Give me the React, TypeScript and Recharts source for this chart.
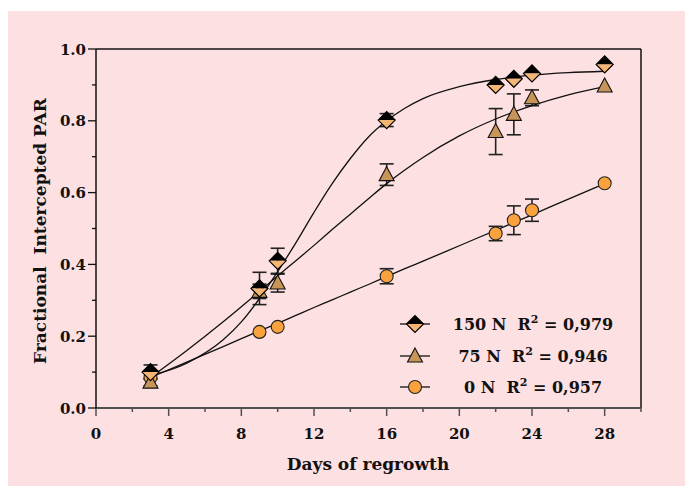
import { ComposedChart, Scatter, Line, XAxis, YAxis, ErrorBar, ReferenceLine } from "recharts";

// measured points (days of regrowth)
const days = [3, 9, 10, 16, 22, 23, 24, 28];
const par150 = [0.1, 0.333, 0.41, 0.802, 0.9, 0.917, 0.932, 0.957];
const err150 = [0.02, 0.045, 0.035, 0.018, null, null, null, null];
const par75 = [0.072, 0.325, 0.348, 0.65, 0.77, 0.818, 0.864, 0.897];
const err75 = [0.01, 0.02, 0.025, 0.03, 0.064, 0.057, 0.022, null];
const par0 = [0.085, 0.212, 0.226, 0.367, 0.486, 0.523, 0.551, 0.626];
const err0 = [null, null, null, 0.021, 0.02, 0.04, 0.031, null];

// fitted curves
const fitDays = [3, 5, 7, 8, 9, 10, 11, 12, 13, 14, 15, 16, 17, 18, 20, 22, 24, 26, 28];
const fit150 = [0.09, 0.125, 0.19, 0.24, 0.305, 0.38, 0.46, 0.545, 0.625, 0.695, 0.755, 0.8, 0.835, 0.862, 0.895, 0.915, 0.927, 0.934, 0.938];
const fit75 = [0.085, 0.16, 0.24, 0.282, 0.325, 0.368, 0.41, 0.453, 0.497, 0.54, 0.583, 0.625, 0.663, 0.698, 0.758, 0.805, 0.842, 0.872, 0.895];
const fit0 = [0.085, 0.128, 0.171, 0.193, 0.215, 0.236, 0.258, 0.28, 0.301, 0.323, 0.344, 0.366, 0.388, 0.409, 0.452, 0.495, 0.538, 0.582, 0.625];

const xTicks = [0, 2, 4, 6, 8, 10, 12, 14, 16, 18, 20, 22, 24, 26, 28, 30];
const yTicks = [0, 0.1, 0.2, 0.3, 0.4, 0.5, 0.6, 0.7, 0.8, 0.9, 1.0];

const legendItems = [
    { label: "150 N", r2: "0,979", marker: "diamond" },
    { label: "75 N", r2: "0,946", marker: "triangle" },
    { label: "0 N", r2: "0,957", marker: "circle" },
];

const FONT = "'DejaVu Serif', serif";
const BG = "#fde0e1";

const toRows = (vals: number[], errs: (number | null)[]) =>
    days.map((d, i) => ({ day: d, v: vals[i], e: errs[i] ?? undefined }));

const rows150 = toRows(par150, err150);
const rows75 = toRows(par75, err75);
const rows0 = toRows(par0, err0);
const fitRows = fitDays.map((d, i) => ({ day: d, f150: fit150[i], f75: fit75[i], f0: fit0[i] }));

function Diamond({ cx, cy }: { cx: number; cy: number }) {
    const s = 8.5;
    return (
        <g>
            <polygon points={`${cx - s},${cy} ${cx},${cy - s} ${cx + s},${cy}`} fill="#000" />
            <polygon points={`${cx - s},${cy} ${cx + s},${cy} ${cx},${cy + s}`} fill="#f5b574" />
            <polygon
                points={`${cx - s},${cy} ${cx},${cy - s} ${cx + s},${cy} ${cx},${cy + s}`}
                fill="none"
                stroke="#000"
                strokeWidth={1.2}
            />
        </g>
    );
}

function Triangle({ cx, cy }: { cx: number; cy: number }) {
    return (
        <polygon
            points={`${cx},${cy - 8} ${cx + 7.5},${cy + 6} ${cx - 7.5},${cy + 6}`}
            fill="#c69557"
            stroke="#111"
            strokeWidth={1.1}
        />
    );
}

function Dot({ cx, cy }: { cx: number; cy: number }) {
    return <circle cx={cx} cy={cy} r={6.5} fill="#f9a23e" stroke="#222" strokeWidth={1.1} />;
}

function Marker({ kind, cx, cy }: { kind: string; cx: number; cy: number }) {
    if (kind === "diamond") return <Diamond cx={cx} cy={cy} />;
    if (kind === "triangle") return <Triangle cx={cx} cy={cy} />;
    return <Dot cx={cx} cy={cy} />;
}

const noShape = () => <g />;

function XTick(props: any) {
    const { x, y, payload } = props;
    const major = payload.value % 4 === 0 && payload.value < 30;
    return (
        <g>
            <line x1={x} y1={y} x2={x} y2={y + (major ? 8 : 4)} stroke="#505050" strokeWidth={1.5} />
            {major && (
                <text x={x} y={y + 31} textAnchor="middle" fontFamily={FONT} fontWeight="bold" fontSize={15} fill="#111">
                    {payload.value}
                </text>
            )}
        </g>
    );
}

function YTick(props: any) {
    const { x, y, payload } = props;
    const major = Math.round(payload.value * 10) % 2 === 0;
    return (
        <g>
            <line x1={x - (major ? 8 : 4)} y1={y} x2={x} y2={y} stroke="#111" strokeWidth={1.3} />
            {major && (
                <text x={x - 10} y={y + 5.5} textAnchor="end" fontFamily={FONT} fontWeight="bold" fontSize={15} fill="#111">
                    {payload.value.toFixed(1)}
                </text>
            )}
        </g>
    );
}

function Legend() {
    return (
        <svg width={260} height={100} style={{ position: "absolute", left: 373, top: 289 }}>
            {legendItems.map((it, i) => {
                const y = [24, 56, 87][i];
                return (
                    <g key={it.label}>
                        <line x1={20} y1={y} x2={50} y2={y} stroke="#111" strokeWidth={1.3} />
                        <Marker kind={it.marker} cx={35} cy={y} />
                        <text
                            x={153}
                            y={y + 6}
                            textAnchor="middle"
                            fontFamily={FONT}
                            fontWeight="bold"
                            fontSize={16}
                            fill="#111"
                            style={{ whiteSpace: "pre" }}
                        >
                            {`${it.label}  R`}
                            <tspan dy={-7} fontSize={11}>2</tspan>
                            <tspan dy={7}>{` = ${it.r2}`}</tspan>
                        </text>
                    </g>
                );
            })}
        </svg>
    );
}

export default function App() {
    return (
        <div style={{ position: "relative", left: -1, top: 3, width: 686, height: 478, background: BG }}>
            <ComposedChart width={686} height={478} margin={{ top: 38, right: 52, bottom: 0, left: 0 }}>
                <XAxis
                    type="number"
                    dataKey="day"
                    domain={[0, 30]}
                    ticks={xTicks}
                    interval={0}
                    height={81}
                    tickLine={false}
                    tickSize={0}
                    tickMargin={0}
                    tick={<XTick />}
                    axisLine={{ stroke: "#505050", strokeWidth: 2 }}
                    label={() => (
                        <text x={361} y={459} textAnchor="middle" fontFamily={FONT} fontWeight="bold" fontSize={17} fill="#111">
                            Days of regrowth
                        </text>
                    )}
                />
                <YAxis
                    type="number"
                    domain={[0, 1]}
                    ticks={yTicks}
                    interval={0}
                    width={89}
                    tickLine={false}
                    tickSize={0}
                    tickMargin={0}
                    tick={<YTick />}
                    axisLine={{ stroke: "#111", strokeWidth: 1.5 }}
                    label={() => (
                        <text
                            x={33}
                            y={220}
                            transform="rotate(-90, 33, 220)"
                            textAnchor="middle"
                            dominantBaseline="central"
                            fontFamily={FONT}
                            fontWeight="bold"
                            fontSize={17}
                            fill="#111"
                            style={{ whiteSpace: "pre" }}
                        >
                            {"Fractional  Intercepted PAR"}
                        </text>
                    )}
                />
                <ReferenceLine y={1} stroke="#111" strokeWidth={1.5} />
                <ReferenceLine x={30} stroke="#111" strokeWidth={1.5} />
                {/* error bars first so the markers sit on top of the stems */}
                <Scatter data={rows0} dataKey="v" isAnimationActive={false} shape={noShape}>
                    <ErrorBar dataKey="e" direction="y" width={7} stroke="#222" strokeWidth={1.6} />
                </Scatter>
                <Scatter data={rows75} dataKey="v" isAnimationActive={false} shape={noShape}>
                    <ErrorBar dataKey="e" direction="y" width={7} stroke="#222" strokeWidth={1.6} />
                </Scatter>
                <Scatter data={rows150} dataKey="v" isAnimationActive={false} shape={noShape}>
                    <ErrorBar dataKey="e" direction="y" width={7} stroke="#222" strokeWidth={1.6} />
                </Scatter>
                <Scatter data={rows0} dataKey="v" isAnimationActive={false} shape={(p: any) => <Dot cx={p.cx} cy={p.cy} />} />
                <Scatter data={rows75} dataKey="v" isAnimationActive={false} shape={(p: any) => <Triangle cx={p.cx} cy={p.cy} />} />
                <Scatter data={rows150} dataKey="v" isAnimationActive={false} shape={(p: any) => <Diamond cx={p.cx} cy={p.cy} />} />
                <Line data={fitRows} dataKey="f0" type="monotone" stroke="#111" strokeWidth={1.3} dot={false} activeDot={false} isAnimationActive={false} />
                <Line data={fitRows} dataKey="f75" type="monotone" stroke="#111" strokeWidth={1.3} dot={false} activeDot={false} isAnimationActive={false} />
                <Line data={fitRows} dataKey="f150" type="monotone" stroke="#111" strokeWidth={1.3} dot={false} activeDot={false} isAnimationActive={false} />
            </ComposedChart>
            <Legend />
        </div>
    );
}
